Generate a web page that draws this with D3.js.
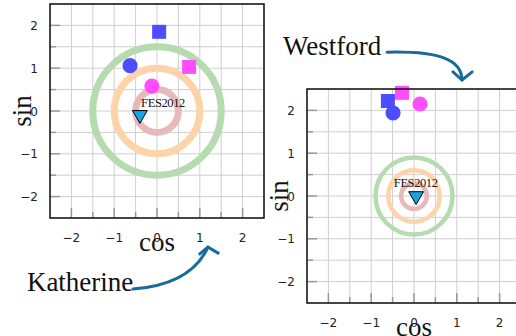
<!DOCTYPE html>
<html>
<head>
<meta charset="utf-8">
<script src="https://cdn.jsdelivr.net/npm/d3@7"></script>
<style>
  body { margin: 0; background: #fff; }
  svg { display: block; }
</style>
</head>
<body>
<div id="chart"></div>
<script>
// station panels
const stations = ['Katherine', 'Westford'];
const panelOrigins = [[50, 4], [307, 89]];

// tide model markers (same order in both panels)
const markerShapes = ['square', 'square', 'circle', 'circle', 'triangle'];
const markerColors = ['#4d4dff', '#ff4dff', '#4d4dff', '#ff4dff', '#1aa3e3'];
const katherineCos = [0.05, 0.75, -0.63, -0.12, -0.40];
const katherineSin = [1.85, 1.03, 1.06, 0.58, -0.09];
const westfordCos = [-0.61, -0.28, -0.49, 0.14, 0.05];
const westfordSin = [2.22, 2.41, 1.94, 2.15, 0.00];

// reference rings around FES2012
const ringColors = ['#e7b9b8', '#fdd4a9', '#b6dbb1'];
const katherineRings = [0.5, 1.0, 1.5];
const westfordRings = [0.3, 0.6, 0.9];
const ringWidths = [7, 4.5];

const refLabel = 'FES2012';
const refLabelPos = [[0.14, 0.09], [0.04, 0.21]];

const tickValues = [-2, -1, 0, 1, 2];
const domain = [-2.5, 2.5];

// annotations, in each panel's own cos/sin units
const noteTextPos = [[-3.04, -4.21], [-3.06, 3.29]];
const noteArrows = [
  [[-0.56, -4.16], [0.37, -4.09], [0.93, -3.76], [1.19, -3.18]],
  [[-0.63, 3.36], [0.61, 3.39], [1.12, 3.18], [1.12, 2.71]]
];
const noteHeads = [
  [[1.0, -3.34], [1.19, -3.18], [1.43, -3.32]],
  [[0.91, 2.90], [1.12, 2.71], [1.36, 2.90]]
];

const size = 214;
const width = 516, height = 336;

const svg = d3.select('#chart').append('svg')
  .attr('width', width)
  .attr('height', height);

const x = d3.scaleLinear().domain(domain).range([0, size]);
const y = d3.scaleLinear().domain(domain).range([size, 0]);

const panelData = [
  { cos: katherineCos, sin: katherineSin, rings: katherineRings },
  { cos: westfordCos, sin: westfordSin, rings: westfordRings }
];

stations.forEach((name, p) => {
  const g = svg.append('g')
    .attr('transform', `translate(${panelOrigins[p][0]},${panelOrigins[p][1]})`);

  const grid = d3.range(-2.5, 2.51, 0.5);
  g.append('g').selectAll('line.vx')
    .data(grid)
    .join('line')
    .attr('x1', d => x(d)).attr('x2', d => x(d))
    .attr('y1', 0).attr('y2', size)
    .attr('stroke', '#cfcfcf').attr('stroke-width', 1);
  g.append('g').selectAll('line.hy')
    .data(grid)
    .join('line')
    .attr('y1', d => y(d)).attr('y2', d => y(d))
    .attr('x1', 0).attr('x2', size)
    .attr('stroke', '#cfcfcf').attr('stroke-width', 1);

  // inside ticks
  const ticks = d3.range(-2, 2.01, 0.5);
  g.append('g').selectAll('line')
    .data(ticks)
    .join('line')
    .attr('x1', 0).attr('x2', d => Number.isInteger(d) ? 10 : 6)
    .attr('y1', d => y(d)).attr('y2', d => y(d))
    .attr('stroke', '#999').attr('stroke-width', 1.5);
  g.append('g').selectAll('line')
    .data(ticks)
    .join('line')
    .attr('y1', size).attr('y2', d => size - (Number.isInteger(d) ? 10 : 6))
    .attr('x1', d => x(d)).attr('x2', d => x(d))
    .attr('stroke', '#999').attr('stroke-width', 1.5);

  const data = panelData[p];

  g.append('g').selectAll('circle')
    .data(data.rings)
    .join('circle')
    .attr('cx', x(0)).attr('cy', y(0))
    .attr('r', d => x(d) - x(0))
    .attr('fill', 'none')
    .attr('stroke', (d, i) => ringColors[i])
    .attr('stroke-width', ringWidths[p]);

  const pts = data.cos.map((c, i) => ({ c, s: data.sin[i], shape: markerShapes[i], color: markerColors[i] }));
  const symbolFor = {
    square: d3.symbol().type(d3.symbolSquare).size(196),
    circle: d3.symbol().type(d3.symbolCircle).size(180),
    triangle: d3.symbol().type(d3.symbolTriangle).size(95)
  };

  g.append('text')
    .attr('x', x(refLabelPos[p][0]))
    .attr('y', y(refLabelPos[p][1]))
    .attr('text-anchor', 'middle')
    .attr('font-family', 'Liberation Serif')
    .attr('font-size', 12.5)
    .attr('letter-spacing', -0.4)
    .attr('fill', '#111')
    .text(refLabel);

  g.append('g').selectAll('path')
    .data(pts)
    .join('path')
    .attr('d', d => symbolFor[d.shape]())
    .attr('transform', d => `translate(${x(d.c)},${y(d.s)})` + (d.shape === 'triangle' ? ' rotate(180)' : ''))
    .attr('fill', d => d.color)
    .attr('stroke', d => d.shape === 'triangle' ? '#000' : 'none')
    .attr('stroke-width', 1);

  g.append('rect')
    .attr('width', size).attr('height', size)
    .attr('fill', 'none')
    .attr('stroke', '#111').attr('stroke-width', 1.5);

  g.append('g').selectAll('text')
    .data(tickValues)
    .join('text')
    .attr('x', d => x(d))
    .attr('y', size + 24)
    .attr('text-anchor', 'middle')
    .attr('font-family', 'DejaVu Sans')
    .attr('font-size', 12)
    .attr('fill', '#222')
    .text(d => d3.format('')(d).replace('-', '\u2212'));

  g.append('g').selectAll('text')
    .data(tickValues)
    .join('text')
    .attr('x', -12)
    .attr('y', d => y(d) + 4.5)
    .attr('text-anchor', 'end')
    .attr('font-family', 'DejaVu Sans')
    .attr('font-size', 12)
    .attr('fill', '#222')
    .text(d => d3.format('')(d).replace('-', '\u2212'));

  g.append('text')
    .attr('x', x(0))
    .attr('y', size + 33)
    .attr('text-anchor', 'middle')
    .attr('font-family', 'Liberation Serif')
    .attr('font-size', 27)
    .attr('fill', '#111')
    .text('cos');

  g.append('text')
    .attr('transform', `translate(-19,${y(0)}) rotate(-90)`)
    .attr('text-anchor', 'middle')
    .attr('font-family', 'Liberation Serif')
    .attr('font-size', 27)
    .attr('fill', '#111')
    .text('sin');

  // station annotation with curved arrow
  g.append('text')
    .attr('x', x(noteTextPos[p][0]))
    .attr('y', y(noteTextPos[p][1]))
    .attr('font-family', 'Liberation Serif')
    .attr('font-size', 27)
    .attr('fill', '#111')
    .text(name);

  const a = noteArrows[p].map(d => [x(d[0]), y(d[1])]);
  const path = d3.path();
  path.moveTo(a[0][0], a[0][1]);
  path.bezierCurveTo(a[1][0], a[1][1], a[2][0], a[2][1], a[3][0], a[3][1]);
  g.append('path')
    .attr('d', path.toString())
    .attr('fill', 'none')
    .attr('stroke', '#196a9b')
    .attr('stroke-width', 3)
    .attr('stroke-linecap', 'round');

  g.append('path')
    .attr('d', d3.line().x(d => x(d[0])).y(d => y(d[1]))(noteHeads[p]))
    .attr('fill', 'none')
    .attr('stroke', '#196a9b')
    .attr('stroke-width', 3)
    .attr('stroke-linecap', 'round')
    .attr('stroke-linejoin', 'round');
});
</script>
</body>
</html>
